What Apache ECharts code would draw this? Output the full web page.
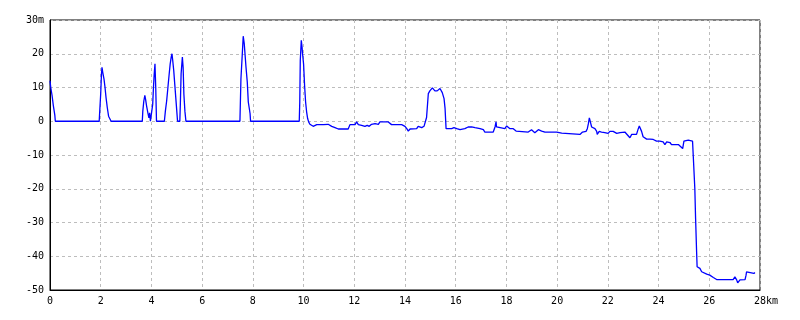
<!DOCTYPE html>
<html><head><meta charset="utf-8">
<script src="https://cdn.jsdelivr.net/npm/echarts@6/dist/echarts.min.js"></script>
<style>html,body{margin:0;padding:0;background:#fff}#c{width:800px;height:320px}</style>
</head><body><div id="c"></div>
<script>
// distance (km) and elevation (m)
var distKm = [0,0.03,0.08,0.13,0.19,0.21,
1.94,1.96,2.0,2.03,2.05,2.08,2.1,2.13,2.17,2.21,2.26,2.31,2.41,
3.64,3.66,3.70,3.74,3.77,3.81,3.86,3.9,3.93,3.96,4.03,4.05,4.08,4.11,4.14,4.17,4.2,
4.51,4.55,4.6,4.65,4.7,4.74,4.78,4.81,4.84,4.88,4.92,4.96,5.0,5.03,
5.12,5.14,5.17,5.22,5.25,5.28,5.32,5.36,
7.49,7.53,7.58,7.62,7.66,7.69,7.73,7.78,7.82,7.89,7.91,
9.83,9.85,9.87,9.91,9.94,9.96,10.0,10.04,10.08,10.12,10.16,10.2,10.25,
10.38,10.45,10.52,10.78,10.97,11.11,11.24,11.37,11.76,11.83,12.03,12.09,12.16,12.29,12.42,12.51,12.59,12.68,12.82,12.95,13.01,13.34,13.47,13.87,14.0,14.07,14.13,14.2,14.46,14.52,14.66,14.75,14.8,
14.85,14.92,14.98,15.08,15.18,15.27,15.38,15.47,15.54,15.58,15.62,
15.84,15.93,16.04,16.17,16.36,16.43,16.49,16.56,16.63,16.69,16.76,16.82,16.96,17.09,17.15,17.48,17.55,17.59,17.61,17.68,17.94,18.01,18.07,18.14,18.27,18.38,18.43,18.86,18.93,18.99,19.06,19.12,19.19,19.26,19.32,19.39,19.52,19.65,19.72,19.78,19.98,20.04,20.18,20.24,
20.9,20.93,21.0,21.14,21.19,21.23,21.27,21.29,21.32,21.36,21.49,21.56,21.58,21.66,21.75,21.82,21.88,21.95,22.01,22.08,22.21,22.28,22.35,22.41,22.48,22.54,22.67,22.74,22.8,22.87,22.94,23.13,23.2,23.24,23.29,23.33,23.39,23.46,23.53,23.66,23.73,23.79,23.86,23.92,24.05,24.12,24.18,24.25,24.32,24.45,24.51,24.78,24.84,24.95,25.0,25.17,25.34,
25.37,25.43,25.46,25.5,25.52,25.63,25.7,25.74,25.9,26.02,26.09,26.16,26.22,26.29,26.94,27.01,27.08,27.12,27.21,27.28,27.41,27.45,27.47,27.54,27.76,27.8];
var elevM = [12,10,7.7,4.7,1.8,0,
0,2.8,8.2,14,16,14.5,15,12.5,10,7,4,1.5,0,
0,3,6,7.7,6.5,4.5,2.5,1,2.5,0,0,5,10,14,17,10,0,
0,3,6,10,14,17,19,20,18,15,11,7,3,0,
0,5,14,19,16,8,3,0,
0,12.6,19.5,25.2,23,20,16,11.6,5.7,2.3,0,
0,5.7,18,24,22,20,17,10.6,5.7,2.8,0.8,-0.2,-0.9,
-1.5,-1.9,-1.0,-1.0,-0.9,-1.5,-1.9,-2.3,-2.3,-1.0,-1.0,-0.2,-1.0,-1.2,-1.5,-1.2,-1.5,-0.9,-0.7,-0.9,-0.2,-0.2,-1.0,-1.0,-1.5,-2.2,-2.9,-2.3,-2.2,-1.5,-1.9,-1.5,-1.7,
1.1,8.2,9.0,9.9,9.0,9.0,9.7,8.5,6.7,3.8,-2.2,
-2.2,-1.9,-2.2,-2.5,-2.2,-1.9,-1.7,-2.0,-1.7,-2.2,-1.9,-2.2,-2.2,-2.5,-3.2,-3.2,-1.7,-0.2,-1.7,-2.2,-2.2,-1.4,-1.7,-2.2,-2.2,-2.9,-3.2,-3.2,-2.7,-2.5,-2.9,-3.4,-2.9,-2.5,-2.7,-2.9,-3.2,-3.2,-3.5,-3.2,-3.2,-3.5,-3.5,-3.9,
-3.9,-4.3,-3.2,-3.0,-2.2,-0.8,1.0,0.6,-0.5,-1.7,-2.2,-3.0,-3.9,-3.0,-3.2,-3.0,-3.4,-3.2,-3.6,-3.0,-3.0,-3.2,-3.6,-3.9,-3.4,-3.2,-3.2,-3.7,-4.3,-4.9,-3.9,-3.9,-2.2,-1.4,-1.7,-3.0,-4.6,-5.1,-5.3,-5.3,-5.1,-5.4,-5.6,-5.9,-5.9,-6.3,-6.1,-6.9,-6.1,-6.3,-6.9,-6.9,-7.3,-8.1,-5.9,-5.6,-5.9,
-10.6,-20,-28.8,-38.7,-43.1,-43.6,-44.6,-45.1,-45.3,-45.6,-46.0,-46.3,-46.6,-46.9,-46.9,-46.1,-47.0,-47.9,-47.0,-46.6,-46.9,-45.6,-44.6,-45.1,-45.1,-44.8];
var xTicks = [0,2,4,6,8,10,12,14,16,18,20,22,24,26,28];
var yTicks = [-50,-40,-30,-20,-10,0,10,20,30];
var xUnit = 'km', yUnit = 'm';

var pts = distKm.map(function(d,i){return [d, elevM[i]];});
var font = '"DejaVu Sans Mono", monospace';
var chart = echarts.init(document.getElementById('c'), null, {renderer:'canvas'});
chart.setOption({
  animation:false,
  backgroundColor:'#fff',
  grid:{left:50,right:40,top:20,bottom:30,show:true,borderColor:'#000',borderWidth:1,backgroundColor:'transparent'},
  xAxis:{type:'value',min:xTicks[0],max:xTicks[xTicks.length-1],interval:2,
    axisLine:{show:true,onZero:false,lineStyle:{color:'#000',width:1}},axisTick:{show:false},
    splitLine:{show:true,lineStyle:{color:'#bdbdbd',type:[3,3],width:1}},
    axisLabel:{color:'#000',fontFamily:font,fontSize:10,margin:6,
      formatter:function(v){return v===xTicks[xTicks.length-1]?'{p|}'+v+xUnit:String(v);},
      rich:{p:{width:12}}}},
  yAxis:{type:'value',min:yTicks[0],max:yTicks[yTicks.length-1],interval:10,
    axisLine:{show:true,onZero:false,lineStyle:{color:'#000',width:1}},axisTick:{show:false},
    splitLine:{show:true,lineStyle:{color:'#bdbdbd',type:[3,3],width:1}},
    axisLabel:{color:'#000',fontFamily:font,fontSize:10,margin:6,
      formatter:function(v){return v===yTicks[yTicks.length-1]?v+yUnit:String(v);}}},
  series:[{type:'line',data:pts,showSymbol:false,symbol:'none',
    lineStyle:{color:'#0000ff',width:1.3},z:3}]
});
</script></body></html>
